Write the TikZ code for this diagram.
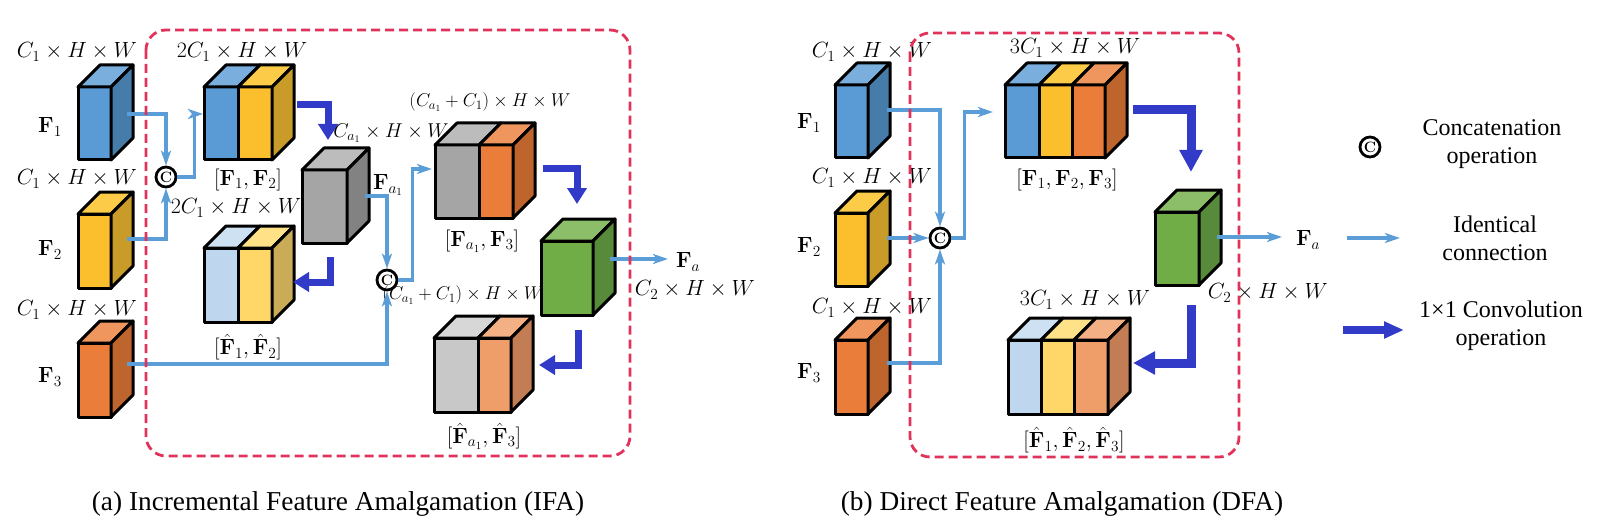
\RequirePackage{fix-cm}
\documentclass[tikz,border=0pt]{standalone}
\usepackage[no-math]{fontspec}
\newfontfamily\tnr{Liberation Serif}
\usetikzlibrary{arrows.meta}
\definecolor{bluef}{RGB}{91,155,213}
\definecolor{bluet}{RGB}{122,174,221}
\definecolor{blues}{RGB}{70,124,170}
\definecolor{yelf}{RGB}{251,190,45}
\definecolor{yelt}{RGB}{252,204,72}
\definecolor{yels}{RGB}{201,155,40}
\definecolor{oraf}{RGB}{234,125,57}
\definecolor{orat}{RGB}{239,150,95}
\definecolor{oras}{RGB}{190,100,45}
\definecolor{grayf}{RGB}{165,165,165}
\definecolor{grayt}{RGB}{188,188,188}
\definecolor{grays}{RGB}{130,130,130}
\definecolor{grnf}{RGB}{112,173,71}
\definecolor{grnt}{RGB}{140,190,105}
\definecolor{grns}{RGB}{88,138,60}
\definecolor{lbluef}{RGB}{190,215,238}
\definecolor{lbluet}{RGB}{206,225,242}
\definecolor{lyelf}{RGB}{255,215,105}
\definecolor{lyelt}{RGB}{255,225,135}
\definecolor{lyels}{RGB}{202,172,88}
\definecolor{lgrayf}{RGB}{200,200,200}
\definecolor{lgrayt}{RGB}{215,215,215}
\definecolor{loraf}{RGB}{240,158,105}
\definecolor{lorat}{RGB}{243,176,132}
\definecolor{loras}{RGB}{195,125,85}
\definecolor{idcol}{RGB}{91,157,215}
\definecolor{convcol}{RGB}{50,58,200}
\definecolor{redbox}{RGB}{225,50,90}
\newcommand{\facefront}[5]{\filldraw[fill=#5,cubeline] (#1,#2) rectangle ++(#3,#4);}
\newcommand{\facetop}[4]{\filldraw[fill=#4,cubeline] (#1,#2) -- ++(22,-22) -- ++(#3,0) -- ++(-22,22) -- cycle;}
\newcommand{\faceside}[4]{\filldraw[fill=#4,cubeline] (#1,#2) -- ++(22,-22) -- ++(0,#3) -- ++(-22,22) -- cycle;}
\tikzset{
  cubeline/.style={draw=black,line width=3pt,line join=round},
  lab/.style={inner sep=0pt,font=\fontsize{22}{26}\selectfont},
  labm/.style={inner sep=0pt,font=\fontsize{20}{24}\selectfont},
  labs/.style={inner sep=0pt,font=\fontsize{18.5}{22}\selectfont},
  leg/.style={inner sep=0pt,align=center,font=\tnr\fontsize{24}{28}\selectfont},
  captxt/.style={inner sep=0pt,font=\tnr\fontsize{27.3}{31}\selectfont},
  cat/.style={circle,draw=black,line width=2.8pt,minimum size=20pt,inner sep=0pt,font=\fontsize{15}{15}\selectfont\bfseries},
  idc/.style={draw=idcol,line width=3.1pt,-{Stealth[length=15pt,width=10pt,inset=4pt]}},
  conv/.style={draw=convcol,line width=7pt,line join=miter,-{Triangle[length=16pt,width=19pt]}},
  convb/.style={draw=convcol,line width=9pt,line join=miter,-{Triangle[length=22pt,width=22pt]}},
  rbox/.style={draw=redbox,line width=2.8pt,dash pattern=on 9pt off 5pt,rounded corners=20pt}
}
\begin{document}
\begin{tikzpicture}[x=1pt,y=-1pt]
\useasboundingbox (0,0) rectangle (1604,524);
% ================= (a) =================
\facefront{78}{87}{33}{73}{bluef}\facetop{78}{87}{33}{bluet}\faceside{111}{87}{73}{blues}
\facefront{78}{214}{33}{74}{yelf}\facetop{78}{214}{33}{yelt}\faceside{111}{214}{74}{yels}
\facefront{78}{343}{33}{74}{oraf}\facetop{78}{343}{33}{orat}\faceside{111}{343}{74}{oras}
\node[lab] (a1d) at (77,52) {$C_1\times H\times W$};
\node[lab] (a2d) at (77,179) {$C_1\times H\times W$};
\node[lab] (a3d) at (77,310) {$C_1\times H\times W$};
\node[lab] (a1n) at (50,127) {$\mathbf{F}_1$};
\node[lab] (a2n) at (50,250) {$\mathbf{F}_2$};
\node[lab] (a3n) at (50,377) {$\mathbf{F}_3$};
% [F1,F2]
\facefront{204}{87}{34}{73}{bluef}\facetop{204}{87}{34}{bluet}
\facefront{238}{87}{34}{73}{yelf}\facetop{238}{87}{34}{yelt}\faceside{272}{87}{73}{yels}
\node[lab] (a12d) at (242,52) {$2C_1\times H\times W$};
\node[lab] (a12n) at (248,180) {$[\mathbf{F}_1,\mathbf{F}_2]$};
% gray Fa1
\facefront{302}{170}{45}{73}{grayf}\facetop{302}{170}{45}{grayt}\faceside{347}{170}{73}{grays}
\node[labm] (aad) at (391,133) {$C_{a_1}\times H\times W$};
\node[lab] (aan) at (388,185) {$\mathbf{F}_{a_1}$};
% [F^1,F^2]
\facefront{204}{248}{34}{74}{lbluef}\facetop{204}{248}{34}{lbluet}
\facefront{238}{248}{34}{74}{lyelf}\facetop{238}{248}{34}{lyelt}\faceside{272}{248}{74}{lyels}
\node[lab] (ah12d) at (236,208) {$2C_1\times H\times W$};
\node[lab] (ah12n) at (248,347) {$[\hat{\mathbf{F}}_1,\hat{\mathbf{F}}_2]$};
% [Fa1,F3]
\facefront{435}{145}{44}{73}{grayf}\facetop{435}{145}{44}{grayt}
\facefront{479}{145}{34}{73}{oraf}\facetop{479}{145}{34}{orat}\faceside{513}{145}{73}{oras}
\node[labs] (aa3d) at (490,102) {$(C_{a_1}+C_1)\times H\times W$};
\node[lab] (aa3n) at (482,241) {$[\mathbf{F}_{a_1},\mathbf{F}_3]$};
% green
\facefront{541}{241}{52}{74}{grnf}\facetop{541}{241}{52}{grnt}\faceside{593}{241}{74}{grns}
\node[lab] (afa) at (688,262) {$\mathbf{F}_a$};
\node[lab] (afad) at (695,290) {$C_2\times H\times W$};
% [F^a1,F^3]
\facefront{434}{338}{44}{74}{lgrayf}\facetop{434}{338}{44}{lgrayt}
\facefront{478}{338}{33}{74}{loraf}\facetop{478}{338}{33}{lorat}\faceside{511}{338}{74}{loras}
\node[labs] (ah3d) at (463,295) {$(C_{a_1}+C_1)\times H\times W$};
\node[lab] (ah3n) at (484,436) {$[\hat{\mathbf{F}}_{a_1},\hat{\mathbf{F}}_3]$};
% concat nodes
\node[cat] (ca1) at (166,177) {C};
\node[cat] (ca2) at (387,280) {C};
\coordinate (pa1) at (127,114);
\coordinate (pa2) at (127,239);
\coordinate (pa3) at (127,364);
\coordinate (pa12in) at (203,114);
\coordinate (paa) at (365,196);
\coordinate (paa3in) at (432,169);
\coordinate (pga) at (610,259);
\coordinate (pfa) at (668,259);
\draw[idc] (pa1) -| (ca1);
\draw[idc] (pa2) -| (ca1);
\draw[idc] (ca1.east) -- ++(17,0) |- (pa12in);
\draw[idc] (paa) -| (ca2);
\draw[idc] (pa3) -| (ca2);
\draw[idc] (ca2.east) -- ++(14,0) |- (paa3in);
\draw[idc] (pga) -- (pfa);
\coordinate (ka1) at (297,105); \coordinate (ka1e) at (328,140);
\coordinate (ka2) at (330,257); \coordinate (ka2e) at (293,282);
\coordinate (ka3) at (543,169); \coordinate (ka3e) at (577,204);
\coordinate (ka4) at (578,330); \coordinate (ka4e) at (539,365);
\draw[conv] (ka1) -| (ka1e);
\draw[conv] (ka2) |- (ka2e);
\draw[conv] (ka3) -| (ka3e);
\draw[conv] (ka4) |- (ka4e);
\draw[rbox] (146,30) rectangle (630,456);
% ================= (b) =================
\facefront{835}{85}{33}{73}{bluef}\facetop{835}{85}{33}{bluet}\faceside{868}{85}{73}{blues}
\facefront{835}{213}{33}{73}{yelf}\facetop{835}{213}{33}{yelt}\faceside{868}{213}{73}{yels}
\facefront{835}{340}{33}{74}{oraf}\facetop{835}{340}{33}{orat}\faceside{868}{340}{74}{oras}
\node[lab] (b1d) at (872,52) {$C_1\times H\times W$};
\node[lab] (b2d) at (872,178) {$C_1\times H\times W$};
\node[lab] (b3d) at (872,308) {$C_1\times H\times W$};
\node[lab] (b1n) at (809,123) {$\mathbf{F}_1$};
\node[lab] (b2n) at (809,247) {$\mathbf{F}_2$};
\node[lab] (b3n) at (809,373) {$\mathbf{F}_3$};
\facefront{1005}{85}{34}{73}{bluef}\facetop{1005}{85}{34}{bluet}
\facefront{1039}{85}{33}{73}{yelf}\facetop{1039}{85}{33}{yelt}
\facefront{1072}{85}{33}{73}{oraf}\facetop{1072}{85}{33}{orat}\faceside{1105}{85}{73}{oras}
\node[lab] (b123d) at (1075,48) {$3C_1\times H\times W$};
\node[lab] (b123n) at (1067,180) {$[\mathbf{F}_1,\mathbf{F}_2,\mathbf{F}_3]$};
\facefront{1155}{212}{44}{73}{grnf}\facetop{1155}{212}{44}{grnt}\faceside{1199}{212}{73}{grns}
\node[lab] (bfa) at (1308,240) {$\mathbf{F}_a$};
\node[lab] (bfad) at (1268,293) {$C_2\times H\times W$};
\facefront{1008}{340}{33}{74}{lbluef}\facetop{1008}{340}{33}{lbluet}
\facefront{1041}{340}{33}{74}{lyelf}\facetop{1041}{340}{33}{lyelt}
\facefront{1074}{340}{34}{74}{loraf}\facetop{1074}{340}{34}{lorat}\faceside{1108}{340}{74}{loras}
\node[lab] (bh123d) at (1085,300) {$3C_1\times H\times W$};
\node[lab] (bh123n) at (1074,440) {$[\hat{\mathbf{F}}_1,\hat{\mathbf{F}}_2,\hat{\mathbf{F}}_3]$};
\node[cat] (cb) at (940,238) {C};
\coordinate (pb1) at (887,110);
\coordinate (pb2) at (887,238);
\coordinate (pb3) at (887,363);
\coordinate (pb123in) at (993,112);
\coordinate (pgb) at (1217,237);
\coordinate (pfb) at (1282,237);
\draw[idc] (pb1) -| (cb);
\draw[idc] (pb2) -- (cb);
\draw[idc] (pb3) -| (cb);
\draw[idc] (cb.east) -- ++(13,0) |- (pb123in);
\draw[idc] (pgb) -- (pfb);
\coordinate (kb1) at (1133,110); \coordinate (kb1e) at (1191,172);
\coordinate (kb2) at (1191,305); \coordinate (kb2e) at (1133,363);
\draw[convb] (kb1) -| (kb1e);
\draw[convb] (kb2) |- (kb2e);
\draw[rbox] (910,33) rectangle (1239,457);
% ================= legend =================
\node[cat] (lc) at (1370,147) {C};
\node[leg] (lct) at (1492,144) {Concatenation\\operation};
\coordinate (li1) at (1347,238); \coordinate (li2) at (1400,238);
\draw[idc] (li1) -- (li2);
\node[leg] (lit) at (1495,238) {Identical\\connection};
\coordinate (lv1) at (1343,330); \coordinate (lv2) at (1404,330);
\draw[draw=convcol,line width=8pt,-{Triangle[length=20pt,width=16pt]}] (lv1) -- (lv2);
\node[leg] (lvt) at (1501,326) {1×1 Convolution\\operation};
\node[captxt] (capa) at (338,504) {(a) Incremental Feature Amalgamation (IFA)};
\node[captxt] (capb) at (1062,504) {(b) Direct Feature Amalgamation (DFA)};
\end{tikzpicture}
\end{document}
